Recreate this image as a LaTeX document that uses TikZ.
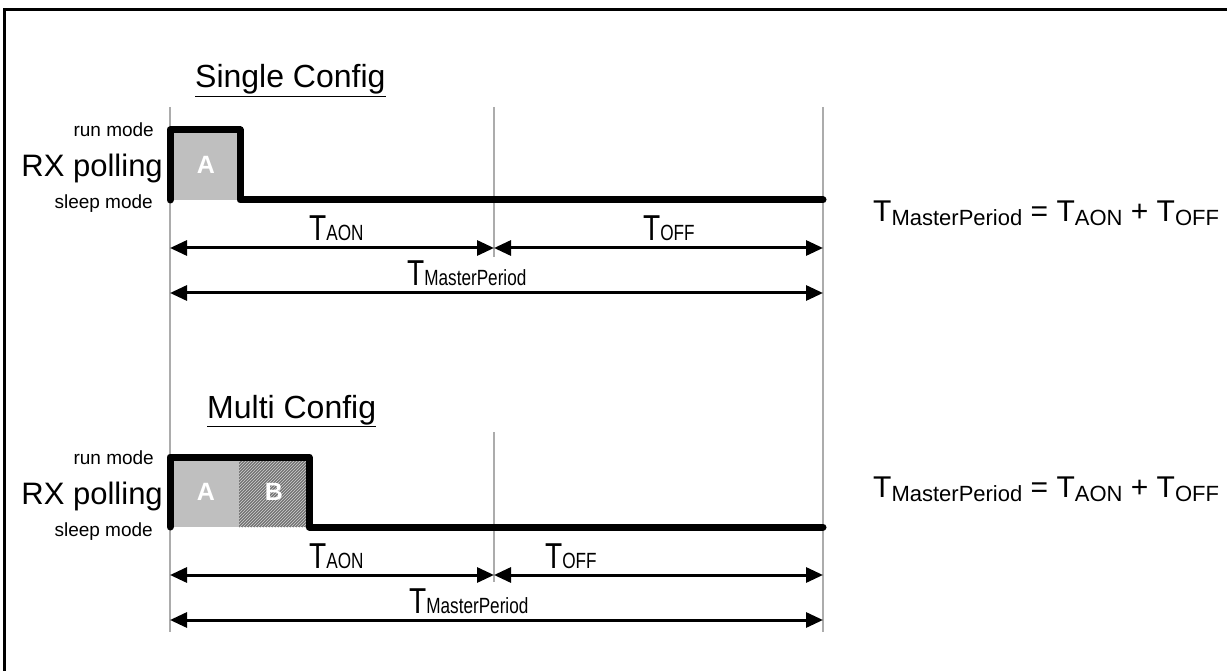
\documentclass[tikz,border=0pt]{standalone}
\usepackage{fontspec}
\usepackage{graphicx}
\setmainfont{Liberation Sans}
\usetikzlibrary{arrows.meta,patterns}
\newcommand\bigT{\fontsize{36}{38}\selectfont T}
\newcommand\dimsub[1]{{\fontsize{22}{24}\selectfont #1}}
\newcommand\eqsub[1]{\raisebox{-4pt}{\fontsize{22}{24}\selectfont #1}}
\begin{document}
\begin{tikzpicture}[x=1pt,y=-1pt,
  guide/.style={draw=gray!65, line width=2.2pt},
  wave/.style={draw=black, line width=7pt, line join=round, line cap=round},
  dimarrow/.style={line width=3pt, {Triangle[length=17pt,width=15pt]}-{Triangle[length=17pt,width=15pt]}},
  dimlabel/.style={inner sep=0pt, anchor=base west},
  modelabel/.style={inner sep=0pt, anchor=base east, font=\fontsize{19}{20}\selectfont},
  rxlabel/.style={inner sep=0pt, anchor=base east, font=\fontsize{31}{32}\selectfont},
  title/.style={inner sep=0pt, anchor=base west, font=\fontsize{32}{34}\selectfont},
  eq/.style={inner sep=0pt, anchor=base west, font=\fontsize{30}{32}\selectfont},
  blocklabel/.style={inner sep=0pt, text=white, font=\fontsize{25}{26}\selectfont\bfseries}]
\useasboundingbox (0,0) rectangle (1227,671);
% frame
\draw[line width=3pt] (4,671) -- (4,10) -- (1227,10);

% guide lines
\coordinate (gL1) at (170,107); \coordinate (gL2) at (170,632);
\coordinate (gR1) at (823,107); \coordinate (gR2) at (823,632);
\coordinate (gM1) at (494,107); \coordinate (gM2) at (494,257);
\coordinate (gM3) at (494,432); \coordinate (gM4) at (494,582);
\draw[guide] (gL1) -- (gL2);
\draw[guide] (gR1) -- (gR2);
\draw[guide] (gM1) -- (gM2);
\draw[guide] (gM3) -- (gM4);

% ===== Single Config =====
\node[title] (t1) at (195,88) {\underline{Single Config}};
\node[modelabel] (run1) at (154,137) {run mode};
\node[rxlabel] (rx1) at (163,177) {RX polling};
\node[modelabel] (sleep1) at (153,209) {sleep mode};
\fill[gray!50] (170,130) rectangle (240,200);
\node[blocklabel] (A1) at (206,165) {A};
\draw[wave] (170,200) -- (170,130) -- (240,130) -- (240,200) -- (823,200);

\coordinate (a1L) at (170,248); \coordinate (a1M) at (494,248); \coordinate (a1R) at (823,248);
\coordinate (b1L) at (170,293); \coordinate (b1R) at (823,293);
\draw[dimarrow] (a1L) -- (a1M);
\draw[dimarrow] (a1M) -- (a1R);
\draw[dimarrow] (b1L) -- (b1R);
\node[dimlabel] (taon1) at (309,241) {\scalebox{0.78}[1]{\bigT\dimsub{AON}}};
\node[dimlabel] (toff1) at (643,241) {\scalebox{0.78}[1]{\bigT\dimsub{OFF}}};
\node[dimlabel] (tmp1) at (407,286) {\scalebox{0.78}[1]{\bigT\dimsub{MasterPeriod}}};
\node[eq] (eq1) at (873,222) {T\eqsub{MasterPeriod} = T\eqsub{AON} + T\eqsub{OFF}};

% ===== Multi Config =====
\node[title] (t2) at (207,418) {\underline{Multi Config}};
\node[modelabel] (run2) at (154,464) {run mode};
\node[rxlabel] (rx2) at (163,504) {RX polling};
\node[modelabel] (sleep2) at (153,536) {sleep mode};
\fill[gray!50] (170,457) rectangle (239,527);
\fill[black!55] (239,457) rectangle (309,527);
\fill[pattern=north east lines, pattern color=gray!35] (239,457) rectangle (309,527);
\node[blocklabel] (A2) at (206,492) {A};
\node[blocklabel] (B2) at (274,492) {B};
\draw[wave] (170,527) -- (170,457) -- (309,457) -- (309,527) -- (823,527);

\coordinate (a2L) at (170,575); \coordinate (a2M) at (494,575); \coordinate (a2R) at (823,575);
\coordinate (b2L) at (170,620); \coordinate (b2R) at (823,620);
\draw[dimarrow] (a2L) -- (a2M);
\draw[dimarrow] (a2M) -- (a2R);
\draw[dimarrow] (b2L) -- (b2R);
\node[dimlabel] (taon2) at (309,568) {\scalebox{0.78}[1]{\bigT\dimsub{AON}}};
\node[dimlabel] (toff2) at (545,568) {\scalebox{0.78}[1]{\bigT\dimsub{OFF}}};
\node[dimlabel] (tmp2) at (409,613) {\scalebox{0.78}[1]{\bigT\dimsub{MasterPeriod}}};
\node[eq] (eq2) at (873,497) {T\eqsub{MasterPeriod} = T\eqsub{AON} + T\eqsub{OFF}};
\end{tikzpicture}
\end{document}
